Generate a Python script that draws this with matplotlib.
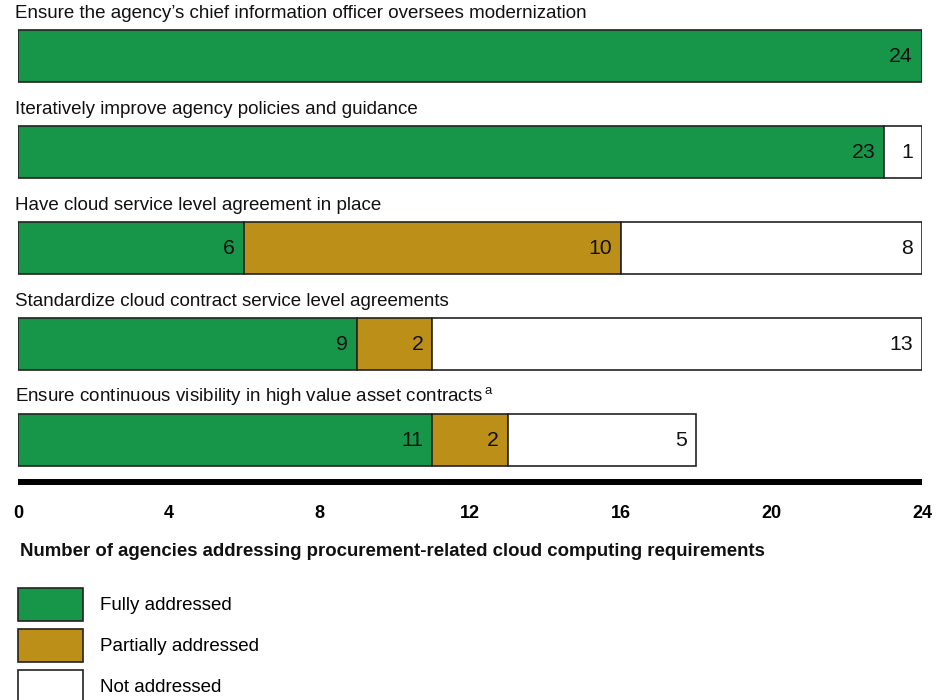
import matplotlib
matplotlib.use("Agg")
import matplotlib.pyplot as plt
from matplotlib.patches import Patch

plt.rcParams['font.family'] = ['Liberation Sans', 'DejaVu Sans']
plt.rcParams['mathtext.fontset'] = 'custom'
plt.rcParams['mathtext.rm'] = 'Liberation Sans'

categories = [
    "Ensure the agency\u2019s chief information officer oversees modernization",
    "Iteratively improve agency policies and guidance",
    "Have cloud service level agreement in place",
    "Standardize cloud contract service level agreements",
    "Ensure continuous visibility in high value asset contracts$^{\\,\\mathrm{a}}$",
]
fully = [24, 23, 6, 9, 11]
partially = [0, 0, 10, 2, 2]
not_addr = [0, 1, 8, 13, 5]
series_names = ["Fully addressed", "Partially addressed", "Not addressed"]
colors = ["#17964A", "#BC8F19", "#FFFFFF"]
xticks = [0, 4, 8, 12, 16, 20, 24]

W, H = 940, 700
fig = plt.figure(figsize=(9.4, 7), dpi=100)
ax = fig.add_axes([18 / W, 1 - 482 / H, 904 / W, 482 / H])

bar_h = 52 / 96
ypos = list(range(len(categories)))
left = [0] * len(categories)
for vals, name, col in zip([fully, partially, not_addr], series_names, colors):
    ax.barh(ypos, vals, left=left, height=bar_h, color=col,
            edgecolor="#222222", linewidth=1.2, label=name)
    for y, v, l in zip(ypos, vals, left):
        if v > 0:
            ax.annotate(str(v), xy=(l + v, y), xytext=(-6.5, 0),
                        textcoords="offset points", ha="right", va="center",
                        fontsize=15.3, color="#111111")
    left = [a + b for a, b in zip(left, vals)]

for y, cat in zip(ypos, categories):
    ax.text(-0.08, y - bar_h / 2 - 12 / 96, cat, ha="left", va="baseline",
            fontsize=13.5, color="#111111", clip_on=False)

ax.set_xlim(0, 24)
ax.set_ylim(482 / 96 - 56 / 96, -56 / 96)
ax.set_yticks([])
ax.set_xticks(xticks)
ax.set_xticklabels([str(t) for t in xticks], fontsize=13, fontweight="bold")
ax.tick_params(axis="x", length=0, pad=16.7)
for s in ["top", "right", "left"]:
    ax.spines[s].set_visible(False)
ax.spines["bottom"].set_linewidth(4.3)
ax.spines["bottom"].set_color("black")
ax.spines["bottom"].set_capstyle("butt")

fig.text(20 / W, 1 - 551 / H,
         "Number of agencies addressing procurement-related cloud computing requirements",
         ha="left", va="center", fontsize=13.4, fontweight="bold", color="#111111")

handles = [Patch(facecolor=c, edgecolor="#222222", linewidth=1.2) for c in colors]
fig.legend(handles, series_names, loc="upper left",
           bbox_to_anchor=(18 / W, 1 - 588 / H), frameon=False,
           borderaxespad=0, borderpad=0, fontsize=13.5,
           handlelength=3.47, handleheight=2.33, labelspacing=0.42,
           handletextpad=0.9)

plt.savefig("out.png", dpi=100)
